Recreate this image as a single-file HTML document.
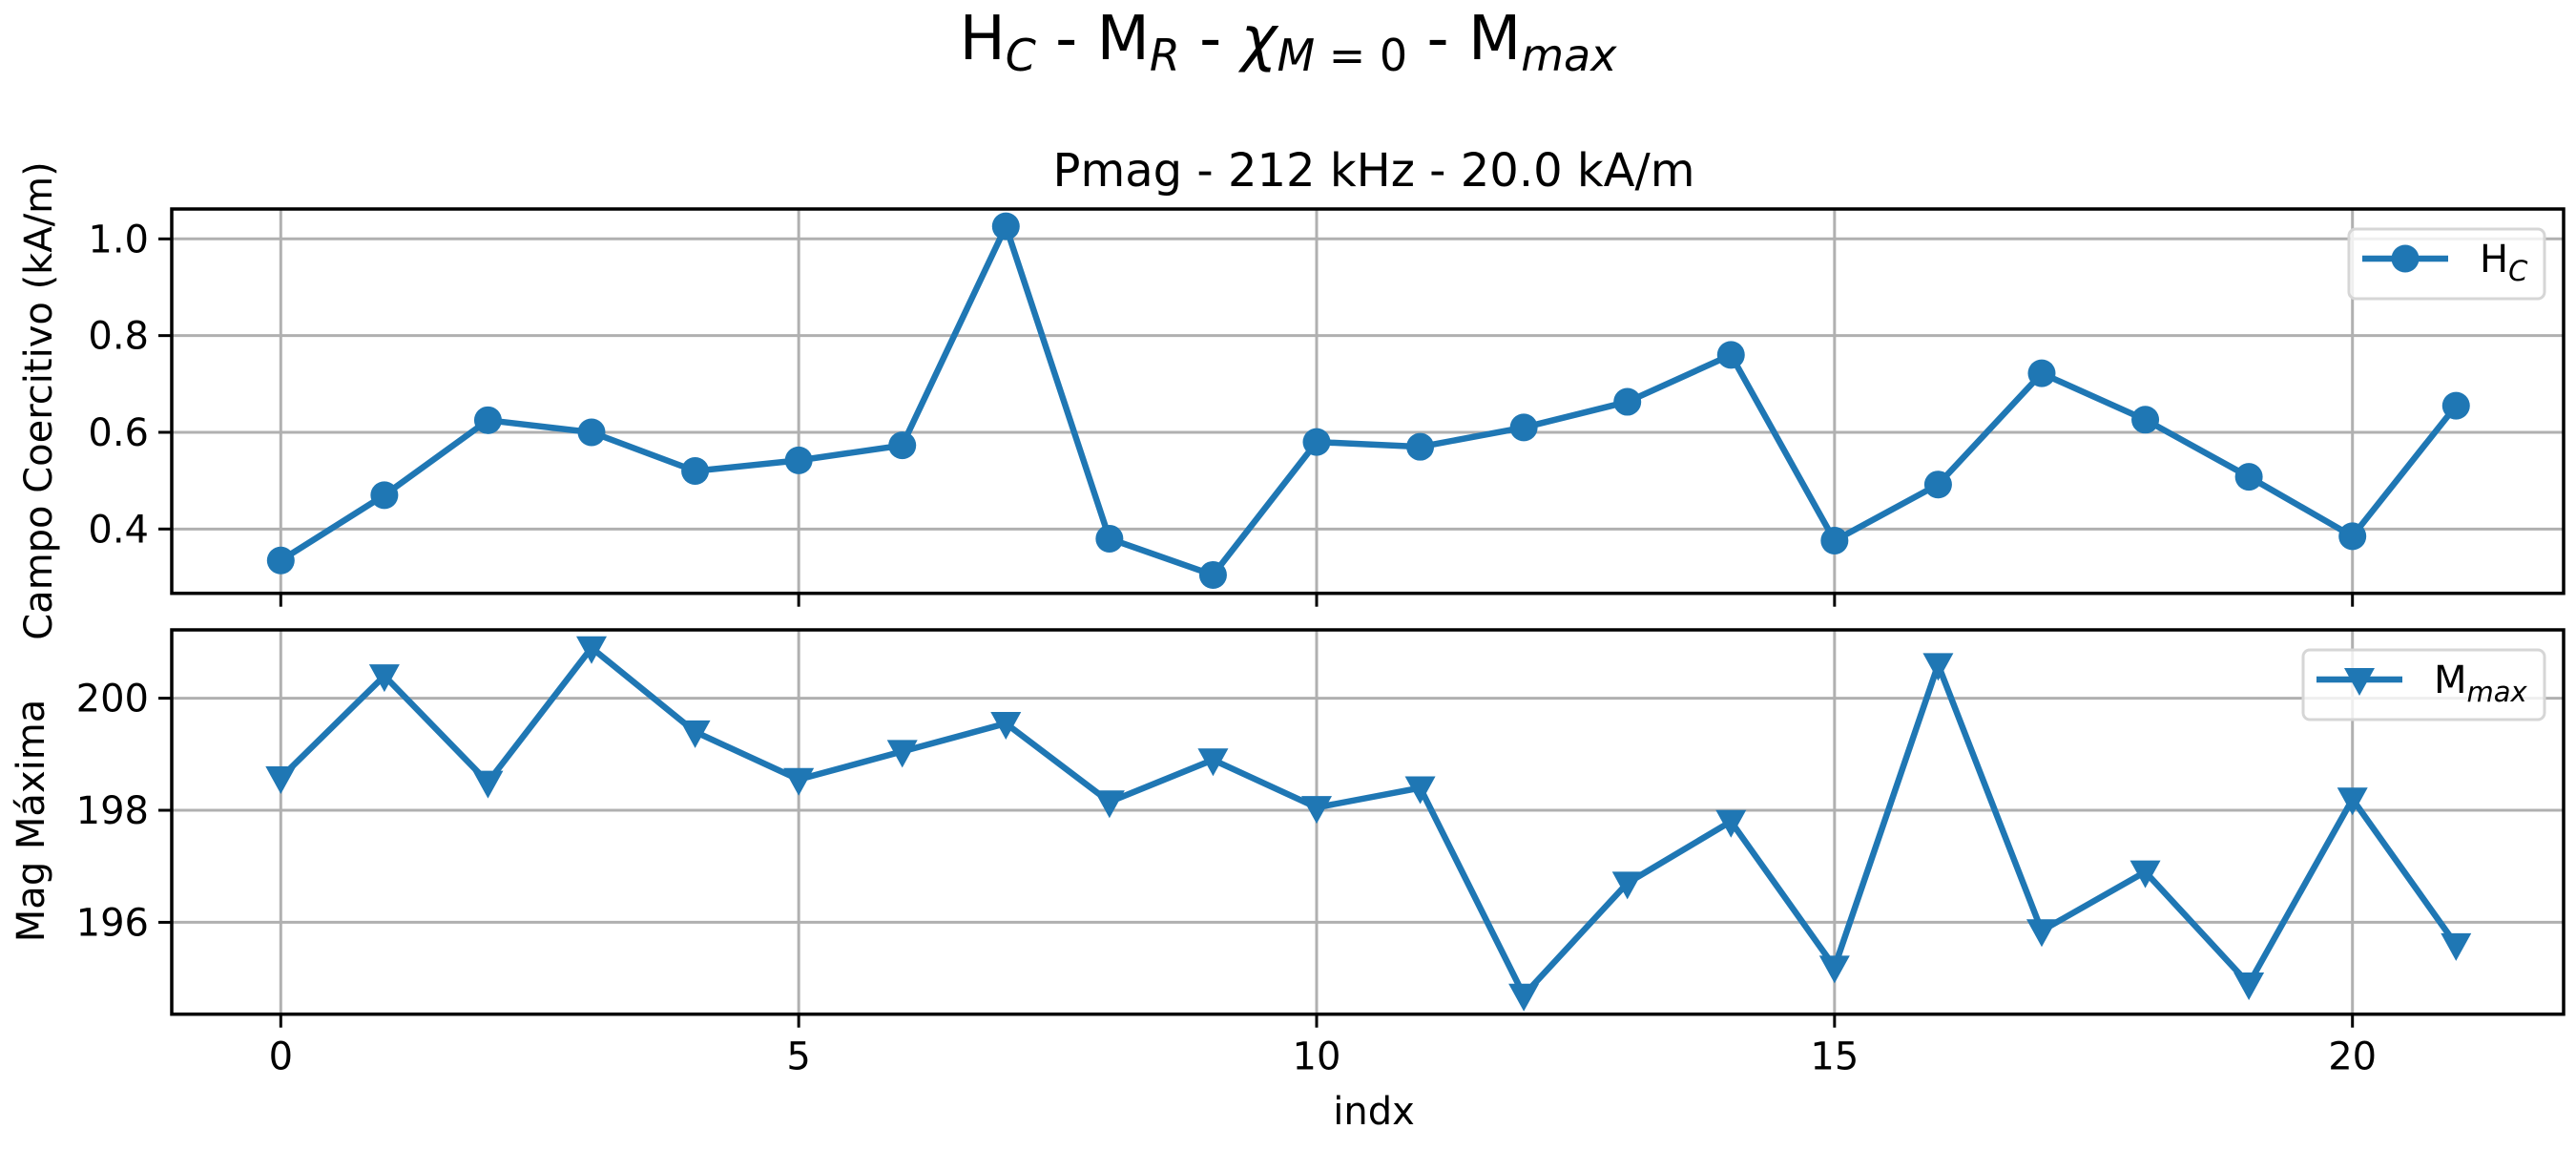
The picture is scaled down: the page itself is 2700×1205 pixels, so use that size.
<!DOCTYPE html>
<html><head><meta charset="utf-8"><style>
body{margin:0;background:#fff}
svg text{font-family:"DejaVu Sans","Liberation Sans",sans-serif;fill:#000}
</style></head><body>
<svg id="chart" width="2700" height="1200" viewBox="0 0 2700 1200" xmlns="http://www.w3.org/2000/svg">
<text x="1350" y="62" font-size="64" text-anchor="middle">H<tspan font-style="italic" font-size="46" dy="12">C</tspan><tspan dy="-12"> - M</tspan><tspan font-style="italic" font-size="46" dy="12">R</tspan><tspan dy="-12"> - </tspan><tspan font-style="italic">χ</tspan><tspan font-style="italic" font-size="46" dy="12">M</tspan><tspan font-size="46"> = 0</tspan><tspan dy="-12"> - M</tspan><tspan font-style="italic" font-size="46" dy="12">max</tspan></text>
<text x="1440" y="195" font-size="48" text-anchor="middle">Pmag - 212 kHz - 20.0 kA/m</text>
<g id="top"></g>
<g id="bot"></g>
<text transform="translate(54,420) rotate(-90)" font-size="40" text-anchor="middle">Campo Coercitivo (kA/m)</text>
<text transform="translate(46,860) rotate(-90)" font-size="40" text-anchor="middle">Mag Máxima</text>
<text x="1440" y="1178" font-size="40" text-anchor="middle">indx</text>
</svg>
<script>
const hcValues = [0.335,0.47,0.625,0.60,0.52,0.542,0.573,1.026,0.38,0.305,0.58,0.57,0.61,0.663,0.76,0.376,0.492,0.722,0.626,0.508,0.385,0.655];
const mmaxValues = [198.58,200.4,198.5,200.9,199.4,198.55,199.05,199.55,198.15,198.9,198.05,198.4,194.7,196.7,197.8,195.2,200.6,195.85,196.9,194.9,198.2,195.6];
const xTicks = [0,5,10,15,20];
const hcTicks = [0.4,0.6,0.8,1.0];
const hcTickLabels = ["0.4","0.6","0.8","1.0"];
const mTicks = [196,198,200];
const mTickLabels = ["196","198","200"];
const NS="http://www.w3.org/2000/svg";
const L=180,R=2687;
const xs=v=>294.3+v*108.57;
function mk(parent,tag,attrs){const e=document.createElementNS(NS,tag);for(const k in attrs)e.setAttribute(k,attrs[k]);parent.appendChild(e);return e;}
function panel(g,top,bot,ymin,ymax,vals,ticks,labels,marker,legText,legSub,legX0,showXLabels,nm){
  const ys=v=>bot-(v-ymin)/(ymax-ymin)*(bot-top);
  xTicks.forEach(t=>{const l=mk(g,'line',{x1:xs(t),x2:xs(t),y1:top,y2:bot,stroke:'#b0b0b0','stroke-width':3});
    
    
    const tk=mk(g,'line',{x1:xs(t),x2:xs(t),y1:bot,y2:bot+14,stroke:'#000','stroke-width':3});
    
    
    if(showXLabels){const tx=mk(g,'text',{x:xs(t),y:bot+58,'font-size':40,'text-anchor':'middle'});tx.textContent=t;
      
      }
  });
  ticks.forEach((t,i)=>{const y=ys(t);
    const l=mk(g,'line',{x1:L,x2:R,y1:y,y2:y,stroke:'#b0b0b0','stroke-width':3});
    
    
    const tk=mk(g,'line',{x1:L-14,x2:L,y1:y,y2:y,stroke:'#000','stroke-width':3});
    
    
    const tx=mk(g,'text',{x:L-24,y:y+14,'font-size':40,'text-anchor':'end'});tx.textContent=labels[i];
    
    
  });
  const pts=vals.map((v,i)=>xs(i)+','+ys(v)).join(' ');
  const pl=mk(g,'polyline',{points:pts,fill:'none',stroke:'#1f77b4','stroke-width':6.5,'stroke-linejoin':'round'});
  
  
  function drawMarker(x,y){
    if(marker==='o') return mk(g,'circle',{cx:x,cy:y,r:14.5,fill:'#1f77b4'});
    return mk(g,'polygon',{points:`${x-16},${y-12} ${x+16},${y-12} ${x},${y+17}`,fill:'#1f77b4'});
  }
  vals.forEach((v,i)=>{const m=drawMarker(xs(i),ys(v));
    
    });
  const fr=mk(g,'rect',{x:L,y:top,width:R-L,height:bot-top,fill:'none',stroke:'#000','stroke-width':3.5});
  
  
  const lg=mk(g,'g',{});
  
  
  const ly=top+52;
  mk(lg,'rect',{x:legX0,y:top+21,width:2667-legX0,height:73,rx:7,fill:'rgba(255,255,255,0.8)',stroke:'#d6d6d6','stroke-width':3});
  mk(lg,'line',{x1:legX0+14,x2:legX0+104,y1:ly,y2:ly,stroke:'#1f77b4','stroke-width':6.5});
  if(marker==='o') mk(lg,'circle',{cx:legX0+59,cy:ly,r:14.5,fill:'#1f77b4'});
  else mk(lg,'polygon',{points:`${legX0+43},${ly-12} ${legX0+75},${ly-12} ${legX0+59},${ly+17}`,fill:'#1f77b4'});
  const t=mk(lg,'text',{x:legX0+137,y:ly+14,'font-size':40});
  t.innerHTML=legText+'<tspan font-style="italic" font-size="29" dy="9">'+legSub+'</tspan>';
}
panel(document.getElementById('top'),219,621.7,0.267,1.0618,hcValues,hcTicks,hcTickLabels,'o','H','C',2462,false,'hc');
panel(document.getElementById('bot'),660,1062.7,194.36,201.22,mmaxValues,mTicks,mTickLabels,'v','M','max',2414,true,'mmax');
</script>
</body></html>
